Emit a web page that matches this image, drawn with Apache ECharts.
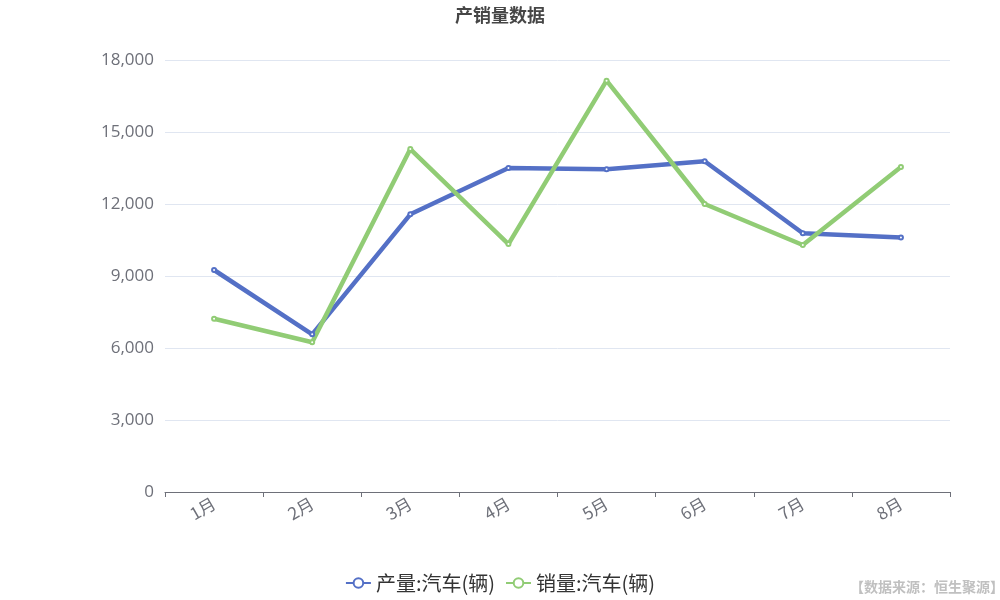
<!DOCTYPE html>
<html>
<head>
<meta charset="utf-8">
<script src="https://cdn.jsdelivr.net/npm/echarts@6/dist/echarts.min.js"></script>
<style>html,body{margin:0;padding:0;background:#fff;}#c{width:1000px;height:600px;}</style>
</head>
<body>
<div id="c"></div>
<script>
var categories = ['1月','2月','3月','4月','5月','6月','7月','8月'];
var production = [9250, 6570, 11570, 13500, 13450, 13780, 10780, 10600];
var sales = [7220, 6240, 14290, 10330, 17140, 12000, 10290, 13540];
var yTicks = [0, 3000, 6000, 9000, 12000, 15000, 18000];

var chart = echarts.init(document.getElementById('c'));
chart.setOption({
  backgroundColor: '#fff',
  title: {
    text: '产销量数据', left: 'center', top: 1,
    textStyle: { fontSize: 18, fontWeight: 'bold', color: '#464646', fontFamily: 'Noto Sans CJK SC' }
  },
  legend: {
    bottom: 2, left: 'center',
    itemWidth: 25, itemHeight: 12, itemGap: 10,
    textStyle: { fontSize: 20, color: '#333', fontFamily: 'Noto Sans CJK SC' },
    data: ['产量:汽车(辆)', '销量:汽车(辆)']
  },
  graphic: [{
    type: 'text', right: -4, bottom: 6,
    style: { text: '【数据来源：恒生聚源】', fontSize: 14, fill: '#c0c0c0', fontWeight: 'bold', fontFamily: 'Noto Sans CJK SC' }
  }],
  grid: { left: 165, right: 50, top: 60, bottom: 108 },
  xAxis: {
    type: 'category', data: categories, boundaryGap: true,
    axisLine: { lineStyle: { color: '#6e7079' } },
    axisTick: { show: true, alignWithLabel: false },
    axisLabel: { rotate: 30, fontSize: 17, color: '#6e7079', fontFamily: 'Noto Sans CJK SC', margin: 10 }
  },
  yAxis: {
    type: 'value', min: yTicks[0], max: yTicks[yTicks.length - 1], interval: 3000,
    axisLabel: { fontSize: 17, color: '#6e7079', fontFamily: 'Open Sans', margin: 11,
      formatter: function (v) { return v.toLocaleString('en-US'); } },
    splitLine: { lineStyle: { color: '#e0e6f1' } }
  },
  series: [{
    name: '产量:汽车(辆)', type: 'line', data: production,
    symbol: 'emptyCircle', symbolSize: 4,
    lineStyle: { width: 4.5, color: '#5470c6' }, itemStyle: { color: '#5470c6' }
  }, {
    name: '销量:汽车(辆)', type: 'line', data: sales,
    symbol: 'emptyCircle', symbolSize: 4,
    lineStyle: { width: 4.5, color: '#91cc75' }, itemStyle: { color: '#91cc75' }
  }]
});
</script>
</body>
</html>
